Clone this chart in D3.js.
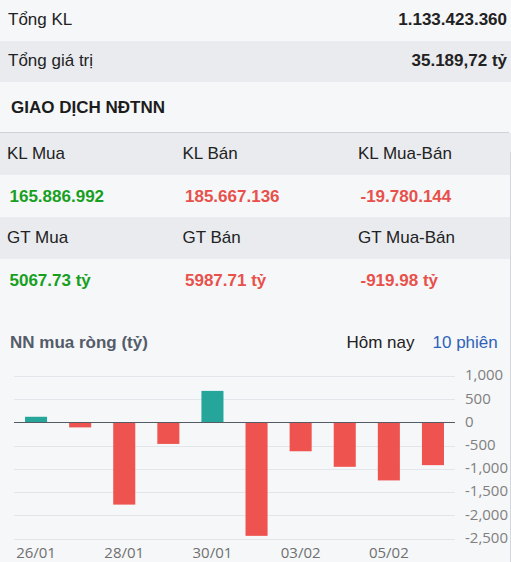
<!DOCTYPE html>
<html>
<head>
<meta charset="utf-8">
<script src="https://cdn.jsdelivr.net/npm/d3@7"></script>
<style>
  html, body { margin: 0; padding: 0; background: #f6f7f9; }
  svg { display: block; }
</style>
</head>
<body>
<svg id="panel"></svg>
<script>
const width = 511;
const height = 562;

// summary rows
const summaryLabels = ["Tổng KL", "Tổng giá trị"];
const summaryValues = ["1.133.423.360", "35.189,72 tỷ"];

// foreign investor table
const tableHeaders = [["KL Mua", "KL Bán", "KL Mua-Bán"], ["GT Mua", "GT Bán", "GT Mua-Bán"]];
const tableValues = [["165.886.992", "185.667.136", "-19.780.144"], ["5067.73 tỷ", "5987.71 tỷ", "-919.98 tỷ"]];
const valueSigns = [[1, -1, -1], [1, -1, -1]];

// net buy chart (tỷ)
const dates = ["26/01", "27/01", "28/01", "29/01", "30/01", "02/02", "03/02", "04/02", "05/02", "06/02"];
const netBuy = [122, -107, -1770, -463, 679, -2443, -621, -956, -1249, -920];
const yTicks = [1000, 500, 0, -500, -1000, -1500, -2000, -2500];
const xTickDates = ["26/01", "28/01", "30/01", "03/02", "05/02"];

const light = "#f6f7f9";
const dark = "#e9ebef";
const green = "#16a01e";
const red = "#e8514b";
const font = "'Liberation Sans', Arial, sans-serif";

const svg = d3.select("#panel")
    .attr("width", width)
    .attr("height", height)
    .style("font-family", font);

svg.append("rect").attr("width", width).attr("height", height).attr("fill", light);

// summary rows (second row shaded)
const rowH = 41;
summaryLabels.forEach((label, i) => {
    const y0 = i * rowH;
    if (i === 1) {
        svg.append("rect").attr("x", 0).attr("y", y0).attr("width", width).attr("height", rowH).attr("fill", dark);
    }
    svg.append("text")
        .attr("x", 8).attr("y", y0 + 25)
        .attr("font-size", 17).attr("fill", "#222")
        .text(label);
    svg.append("text")
        .attr("x", 507).attr("y", y0 + 25)
        .attr("text-anchor", "end")
        .attr("font-size", 17).attr("font-weight", "bold").attr("fill", "#222")
        .text(summaryValues[i]);
});

svg.append("text")
    .attr("x", 11).attr("y", 113)
    .attr("font-size", 17).attr("font-weight", "bold").attr("fill", "#1c1c1c")
    .text("GIAO DỊCH NĐTNN");

// table
svg.append("line")
    .attr("x1", 0).attr("x2", 509).attr("y1", 132.5).attr("y2", 132.5)
    .attr("stroke", "#cfd3d9");

const colX = [7, 182.5, 358];
const tableTop = 133;
const tRowH = 42;
tableHeaders.forEach((hdr, r) => {
    const yh = tableTop + r * 2 * tRowH;
    svg.append("rect").attr("x", 0).attr("y", yh).attr("width", width).attr("height", tRowH).attr("fill", dark);
    hdr.forEach((t, c) => {
        svg.append("text")
            .attr("x", colX[c]).attr("y", yh + 26)
            .attr("font-size", 17).attr("fill", "#222")
            .text(t);
    });
    tableValues[r].forEach((t, c) => {
        svg.append("text")
            .attr("x", colX[c] + 2.5).attr("y", yh + tRowH + 26.5)
            .attr("font-size", 17).attr("font-weight", "bold")
            .attr("fill", valueSigns[r][c] > 0 ? green : red)
            .text(t);
    });
});

// right border
svg.append("line")
    .attr("x1", 510.5).attr("x2", 510.5).attr("y1", 152).attr("y2", height)
    .attr("stroke", "#d3d6db");

// chart header
svg.append("text")
    .attr("x", 10).attr("y", 348)
    .attr("font-size", 17).attr("font-weight", "bold").attr("fill", "#545c69")
    .text("NN mua ròng (tỷ)");
svg.append("text")
    .attr("x", 346.5).attr("y", 348)
    .attr("font-size", 17).attr("fill", "#222")
    .text("Hôm nay");
svg.append("text")
    .attr("x", 432.5).attr("y", 348)
    .attr("font-size", 17).attr("fill", "#2f62b8")
    .text("10 phiên");

// chart
const x = d3.scaleBand()
    .domain(dates)
    .range([14, 455])
    .paddingInner(0.5)
    .paddingOuter(0.25);

const y = d3.scaleLinear()
    .domain([-2500, 1000])
    .range([538.5, 376]);

const axisFont = "'Open Sans', sans-serif";

svg.append("g")
    .selectAll("line")
    .data(yTicks.filter(d => d !== 0))
    .join("line")
    .attr("x1", 14).attr("x2", 455)
    .attr("y1", d => Math.round(y(d)) + 0.5)
    .attr("y2", d => Math.round(y(d)) + 0.5)
    .attr("stroke", "#e2e5ea");

svg.append("g")
    .selectAll("rect")
    .data(netBuy)
    .join("rect")
    .attr("x", (d, i) => x(dates[i]))
    .attr("y", d => y(Math.max(0, d)))
    .attr("width", x.bandwidth())
    .attr("height", d => Math.abs(y(d) - y(0)))
    .attr("fill", d => d >= 0 ? "#26a69a" : "#ef5350");

svg.append("line")
    .attr("x1", 14).attr("x2", 455)
    .attr("y1", Math.round(y(0)) + 0.5).attr("y2", Math.round(y(0)) + 0.5)
    .attr("stroke", "#555b63");

svg.append("g")
    .selectAll("text")
    .data(yTicks)
    .join("text")
    .attr("x", 465)
    .attr("y", d => y(d) + 4.3)
    .attr("font-family", axisFont)
    .attr("font-size", 15)
    .attr("fill", "#808080")
    .text(d => d3.format(",")(d).replace("−", "-"));

svg.append("g")
    .selectAll("text")
    .data(xTickDates)
    .join("text")
    .attr("x", d => x(d) + x.bandwidth() / 2)
    .attr("y", 557.5)
    .attr("text-anchor", "middle")
    .attr("font-family", axisFont)
    .attr("font-size", 15)
    .attr("fill", "#707070")
    .text(d => d);
</script>
</body>
</html>
